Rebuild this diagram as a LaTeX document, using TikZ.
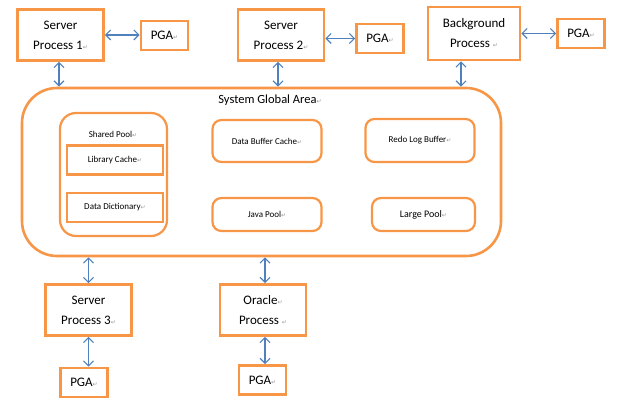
\documentclass[tikz,border=0pt]{standalone}
\usepackage{fontspec}
\setmainfont{Carlito}
\newfontfamily\markfont{DejaVu Sans}
\usetikzlibrary{arrows.meta}
\definecolor{boxorange}{HTML}{F79646}
\definecolor{linkblue}{HTML}{4F81BD}
\newcommand{\retmark}{{\color{black!40}\markfont\fontsize{6}{6}\selectfont ↵}}

\begin{document}
\begin{tikzpicture}[x=1pt, y=-1pt,
        proc/.style = {draw=boxorange, line width=2.6pt, fill=white, align=center, inner sep=0pt, font=\fontsize{13}{20}\selectfont, minimum width=86pt, minimum height=51pt},
        pga/.style = {proc, minimum width=47pt, minimum height=29pt},
        pool/.style = {draw=boxorange, line width=2.2pt, rounded corners=9pt, inner sep=0pt, font=\fontsize{9}{11}\selectfont, minimum width=109pt, minimum height=33pt},
        cache/.style = {draw=boxorange, line width=2.2pt, inner sep=0pt, font=\fontsize{9}{11}\selectfont, minimum width=96pt, minimum height=29pt},
        conn/.style = {<->, draw=linkblue, line width=1.2pt, >={Straight Barb[length=5pt,width=10pt]}}]
        \useasboundingbox (0,0) rectangle (640,411);

        \node[draw=boxorange, line width=2.6pt, rounded corners=35pt, minimum width=479pt, minimum height=168pt] (SGA) at (261.5,172) {};
        \node[font=\fontsize{12.5}{14}\selectfont] (SGAtitle) at (270,100) {System Global Area\retmark};

        \node[draw=boxorange, line width=2.2pt, rounded corners=16pt, minimum width=107pt, minimum height=123pt] (SP) at (113.5,174.5) {};
        \node[font=\fontsize{9}{11}\selectfont] (SPtitle) at (113,134) {Shared Pool\retmark};
        \node[cache] (LC) at (115,160) {Library Cache\retmark};
        \node[cache] (DD) at (115,207.5) {Data Dictionary\retmark};
        \node[pool, minimum height=42pt] (DBC) at (267,141) {Data Buffer Cache\retmark};
        \node[pool] (JP) at (267,214.5) {Java Pool\retmark};
        \node[pool, minimum height=43pt] (RLB) at (420,140.5) {Redo Log Buffer\retmark};
        \node[pool, minimum width=103pt, font=\fontsize{10}{12}\selectfont] (LP) at (423.5,214.5) {Large Pool\retmark};

        \node[proc] (SP1) at (60.5,35) {Server\\Process 1\retmark};
        \node[pga] (PGA1) at (164.5,35.5) {PGA\retmark};
        \node[proc] (SP2) at (281,35) {Server\\Process 2\retmark};
        \node[pga] (PGA2) at (380,38.5) {PGA\retmark};
        \node[proc, minimum width=92pt, minimum height=53pt] (BP) at (474,33.5) {Background\\Process \retmark};
        \node[pga] (PGA3) at (581,33.5) {PGA\retmark};
        \node[proc] (SP3) at (88.5,310) {Server\\Process 3\retmark};
        \node[pga] (PGA4) at (84,382.5) {PGA\retmark};
        \node[proc] (OP) at (263,310) {Oracle\retmark\\Process \retmark};
        \node[pga] (PGA5) at (262.5,380) {PGA\retmark};

        \draw[conn] (SP1.east) -- (SP1.east -| PGA1.west);
        \draw[conn] (SP2.east |- PGA2.west) -- (PGA2.west);
        \draw[conn] (BP.east) -- (BP.east -| PGA3.west);
        \draw[conn] ([xshift=-1.5]SP1.south) -- ([xshift=-1.5]SP1.south |- SGA.north);
        \draw[conn] ([xshift=-3]SP2.south) -- ([xshift=-3]SP2.south |- SGA.north);
        \draw[conn] ([xshift=-13]BP.south) -- ([xshift=-13]BP.south |- SGA.north);
        \draw[conn] (SP3.north |- SGA.south) -- (SP3.north);
        \draw[conn] ([xshift=2]OP.north |- SGA.south) -- ([xshift=2]OP.north);
        \draw[conn] (SP3.south) -- (SP3.south |- PGA4.north);
        \draw[conn] ([xshift=2]OP.south) -- ([xshift=2]OP.south |- PGA5.north);
    \end{tikzpicture}
\end{document}
